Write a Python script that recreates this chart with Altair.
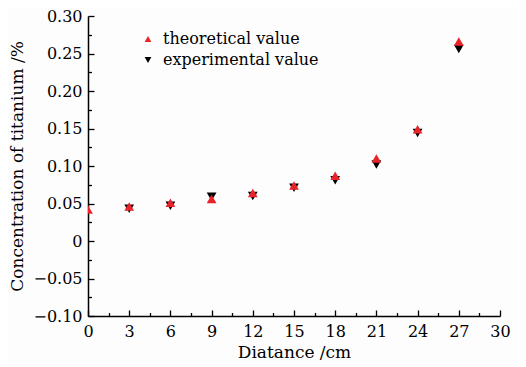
import altair as alt
import pandas as pd

# data
distance_theo = [0, 3, 6, 9, 12, 15, 18, 21, 24, 27]
theoretical = [0.042, 0.046, 0.051, 0.056, 0.064, 0.074, 0.087, 0.110, 0.149, 0.266]
distance_exp = [3, 6, 9, 12, 15, 18, 21, 24, 27]
experimental = [0.043, 0.047, 0.059, 0.060, 0.071, 0.081, 0.102, 0.144, 0.256]

series_names = ["theoretical value", "experimental value"]
series_colors = ["#e8232a", "#000000"]
series_shapes = ["triangle-up", "triangle-down"]

x_major = [0, 3, 6, 9, 12, 15, 18, 21, 24, 27, 30]
x_minor = [i * 1.5 for i in range(21)]
y_major = [-0.10, -0.05, 0.0, 0.05, 0.10, 0.15, 0.20, 0.25, 0.30]
y_minor = [round(-0.10 + i * 0.025, 3) for i in range(17)]

rows = [{"d": d, "c": c, "s": series_names[1], "o": 0} for d, c in zip(distance_exp, experimental)]
rows += [{"d": d, "c": c, "s": series_names[0], "o": 1} for d, c in zip(distance_theo, theoretical)]
df = pd.DataFrame(rows)

FONT = "DejaVu Serif"
W, H = 412, 300

xscale = alt.Scale(domain=[0, 30], nice=False, zero=False)
yscale = alt.Scale(domain=[-0.10, 0.30], nice=False, zero=False)

points = alt.Chart(df).mark_point(filled=True, size=95, opacity=1, clip=True).encode(
    x=alt.X("d:Q", scale=xscale, title="Diatance /cm",
            axis=alt.Axis(orient="bottom", values=x_major, ticks=False, grid=False,
                          labelFont=FONT, labelFontSize=16, labelColor="#000",
                          labelPadding=7, labelFlush=False,
                          domainColor="#000", domainWidth=1.5,
                          titleFont=FONT, titleFontSize=17, titleFontWeight="normal",
                          titleColor="#000", titlePadding=5)),
    y=alt.Y("c:Q", scale=yscale, title="Concentration of titanium /%",
            axis=alt.Axis(orient="left", values=y_major, ticks=False, grid=False,
                          labelExpr="datum.value == 0 ? '0' : replace(format(datum.value, '.2f'), '-', '\u2212')",
                          labelFont=FONT, labelFontSize=16, labelColor="#000",
                          labelPadding=6, labelFlush=False,
                          domainColor="#000", domainWidth=1.5,
                          titleFont=FONT, titleFontSize=17, titleFontWeight="normal",
                          titleColor="#000", titlePadding=6)),
    color=alt.Color("s:N", scale=alt.Scale(domain=series_names, range=series_colors),
                    legend=alt.Legend(orient="none", legendX=52, legendY=15, title=None,
                                      labelFont=FONT, labelFontSize=16, labelColor="#000",
                                      symbolSize=45, rowPadding=5, labelOffset=7)),
    shape=alt.Shape("s:N", scale=alt.Scale(domain=series_names, range=series_shapes)),
    order=alt.Order("o:Q"),
)

ticks_layer = alt.Chart(df).mark_point(opacity=0).encode(
    x=alt.X("d:Q", scale=xscale,
            axis=alt.Axis(orient="top", offset=-H, values=x_minor, labels=False, domain=False,
                          grid=False, title=None, tickColor="#000", tickWidth=1.3,
                          tickSize={"condition": {"test": "datum.value % 3 === 0", "value": 6}, "value": 3.5})),
    y=alt.Y("c:Q", scale=yscale,
            axis=alt.Axis(orient="right", offset=-W, values=y_minor, labels=False, domain=False,
                          grid=False, title=None, tickColor="#000", tickWidth=1.3,
                          tickSize={"condition": {"test": "abs(datum.value * 1000 % 50) < 1 || abs(datum.value * 1000 % 50) > 49", "value": 6}, "value": 3.5})),
)

chart = alt.layer(points, ticks_layer).resolve_axis(x="independent", y="independent").properties(
    width=W, height=H,
    autosize=alt.AutoSizeParams(type="none"),
    padding={"left": 80, "top": 8, "right": 18, "bottom": 50},
    background="#fdfdfd",
).configure_view(stroke=None)

chart.save("out.html", embed_options={"renderer": "svg", "actions": False})
